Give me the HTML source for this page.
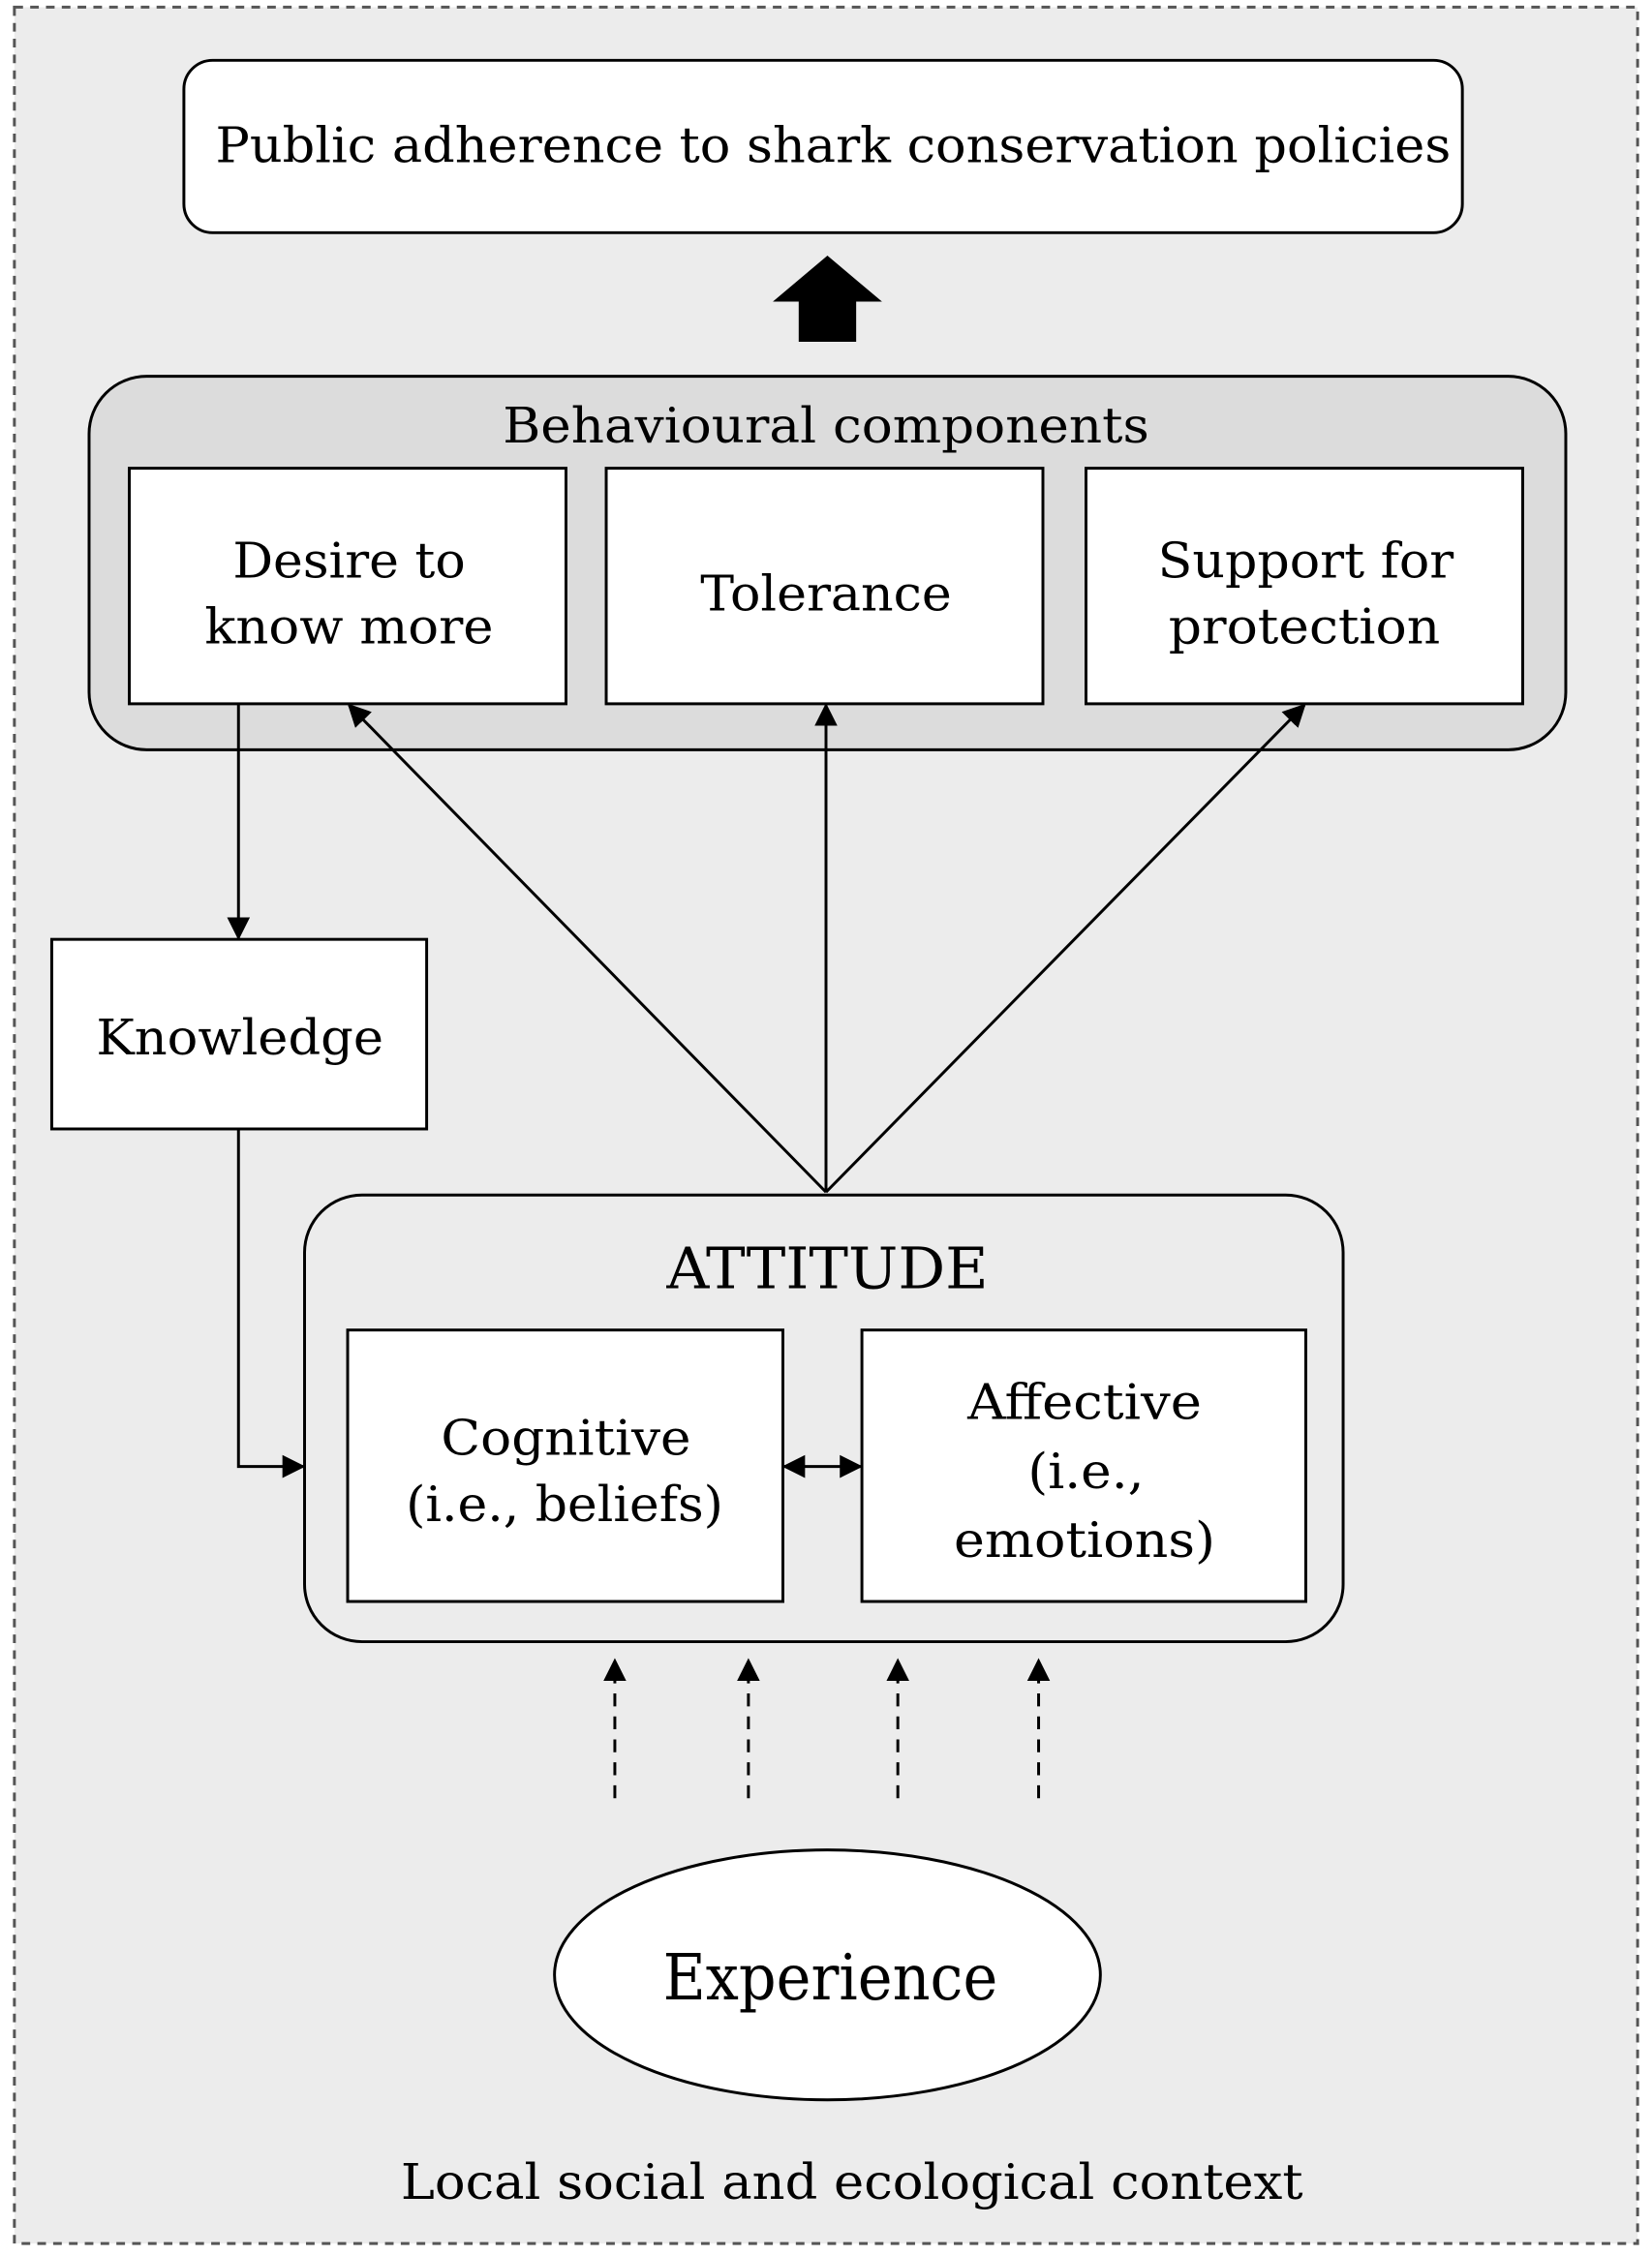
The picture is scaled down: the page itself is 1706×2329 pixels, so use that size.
<!DOCTYPE html>
<html><head><meta charset="utf-8"><style>
html,body{margin:0;padding:0;background:#fff;}
svg{display:block;}
text{font-family:"DejaVu Serif","Liberation Serif",serif;fill:#000;text-anchor:middle;}
</style></head><body>
<svg width="1706" height="2329" viewBox="0 0 1150 1570" xmlns="http://www.w3.org/2000/svg">
<defs>
<marker id="ah2" viewBox="0 0 10 10" refX="9" refY="5" markerWidth="16" markerHeight="16" orient="auto-start-reverse" markerUnits="userSpaceOnUse">
<path d="M0,0 L10,5 L0,10 z" fill="#000"/></marker>
</defs>
<rect x="10" y="5" width="1130" height="1557" fill="#ececec" stroke="#555" stroke-width="2" stroke-dasharray="6,5"/>
<rect x="128" y="42" width="890" height="120" rx="20" fill="#fff" stroke="#000" stroke-width="2"/>
<text x="580" y="113" font-size="34" textLength="860" lengthAdjust="spacingAndGlyphs">Public adherence to shark conservation policies</text>
<path d="M576,178 L614,210 L596,210 L596,238 L556,238 L556,210 L538,210 Z" fill="#000"/>
<rect x="62" y="262" width="1028" height="260" rx="40" fill="#dcdcdc" stroke="#000" stroke-width="2"/>
<text x="575" y="308" font-size="34" textLength="450" lengthAdjust="spacingAndGlyphs">Behavioural components</text>
<rect x="90" y="326" width="304" height="164" fill="#fff" stroke="#000" stroke-width="2"/>
<rect x="422" y="326" width="304" height="164" fill="#fff" stroke="#000" stroke-width="2"/>
<rect x="756" y="326" width="304" height="164" fill="#fff" stroke="#000" stroke-width="2"/>
<text x="243" y="402" font-size="34" textLength="162" lengthAdjust="spacingAndGlyphs">Desire to</text>
<text x="243" y="448" font-size="34" textLength="201" lengthAdjust="spacingAndGlyphs">know more</text>
<text x="575" y="425" font-size="34" textLength="175" lengthAdjust="spacingAndGlyphs">Tolerance</text>
<text x="909" y="402" font-size="34" textLength="206" lengthAdjust="spacingAndGlyphs">Support for</text>
<text x="908" y="448" font-size="34" textLength="189" lengthAdjust="spacingAndGlyphs">protection</text>
<g stroke="#000" stroke-width="2" fill="none">
<line x1="575" y1="830" x2="243" y2="491" marker-end="url(#ah2)"/>
<line x1="575" y1="830" x2="575" y2="491" marker-end="url(#ah2)"/>
<line x1="575" y1="830" x2="908" y2="491" marker-end="url(#ah2)"/>
<line x1="166" y1="490" x2="166" y2="653" marker-end="url(#ah2)"/>
<polyline points="166,786 166,1021 211,1021" marker-end="url(#ah2)"/>
</g>
<rect x="36" y="654" width="261" height="132" fill="#fff" stroke="#000" stroke-width="2"/>
<text x="167" y="734" font-size="34" textLength="200" lengthAdjust="spacingAndGlyphs">Knowledge</text>
<rect x="212" y="832" width="723" height="311" rx="40" fill="#ececec" stroke="#000" stroke-width="2"/>
<text x="576" y="897" font-size="40" textLength="224" lengthAdjust="spacingAndGlyphs">ATTITUDE</text>
<rect x="242" y="926" width="303" height="189" fill="#fff" stroke="#000" stroke-width="2"/>
<rect x="600" y="926" width="309" height="189" fill="#fff" stroke="#000" stroke-width="2"/>
<text x="394" y="1013" font-size="34" textLength="174" lengthAdjust="spacingAndGlyphs">Cognitive</text>
<text x="393" y="1059" font-size="34" textLength="221" lengthAdjust="spacingAndGlyphs">(i.e., beliefs)</text>
<text x="755" y="988" font-size="34" textLength="163" lengthAdjust="spacingAndGlyphs">Affective</text>
<text x="756" y="1036" font-size="34" textLength="81" lengthAdjust="spacingAndGlyphs">(i.e.,</text>
<text x="755" y="1084" font-size="34" textLength="182" lengthAdjust="spacingAndGlyphs">emotions)</text>
<line x1="546" y1="1021" x2="599" y2="1021" stroke="#000" stroke-width="2" marker-start="url(#ah2)" marker-end="url(#ah2)"/>
<g stroke="#000" stroke-width="2" stroke-dasharray="9,7">
<line x1="428" y1="1252" x2="428" y2="1156" marker-end="url(#ah2)"/>
<line x1="521" y1="1252" x2="521" y2="1156" marker-end="url(#ah2)"/>
<line x1="625" y1="1252" x2="625" y2="1156" marker-end="url(#ah2)"/>
<line x1="723" y1="1252" x2="723" y2="1156" marker-end="url(#ah2)"/>
</g>
<ellipse cx="576" cy="1375" rx="190" ry="87" fill="#fff" stroke="#000" stroke-width="2"/>
<text x="578" y="1392" font-size="44" textLength="233" lengthAdjust="spacingAndGlyphs">Experience</text>
<text x="593" y="1531" font-size="34" textLength="628" lengthAdjust="spacingAndGlyphs">Local social and ecological context</text>
</svg>
</body></html>
